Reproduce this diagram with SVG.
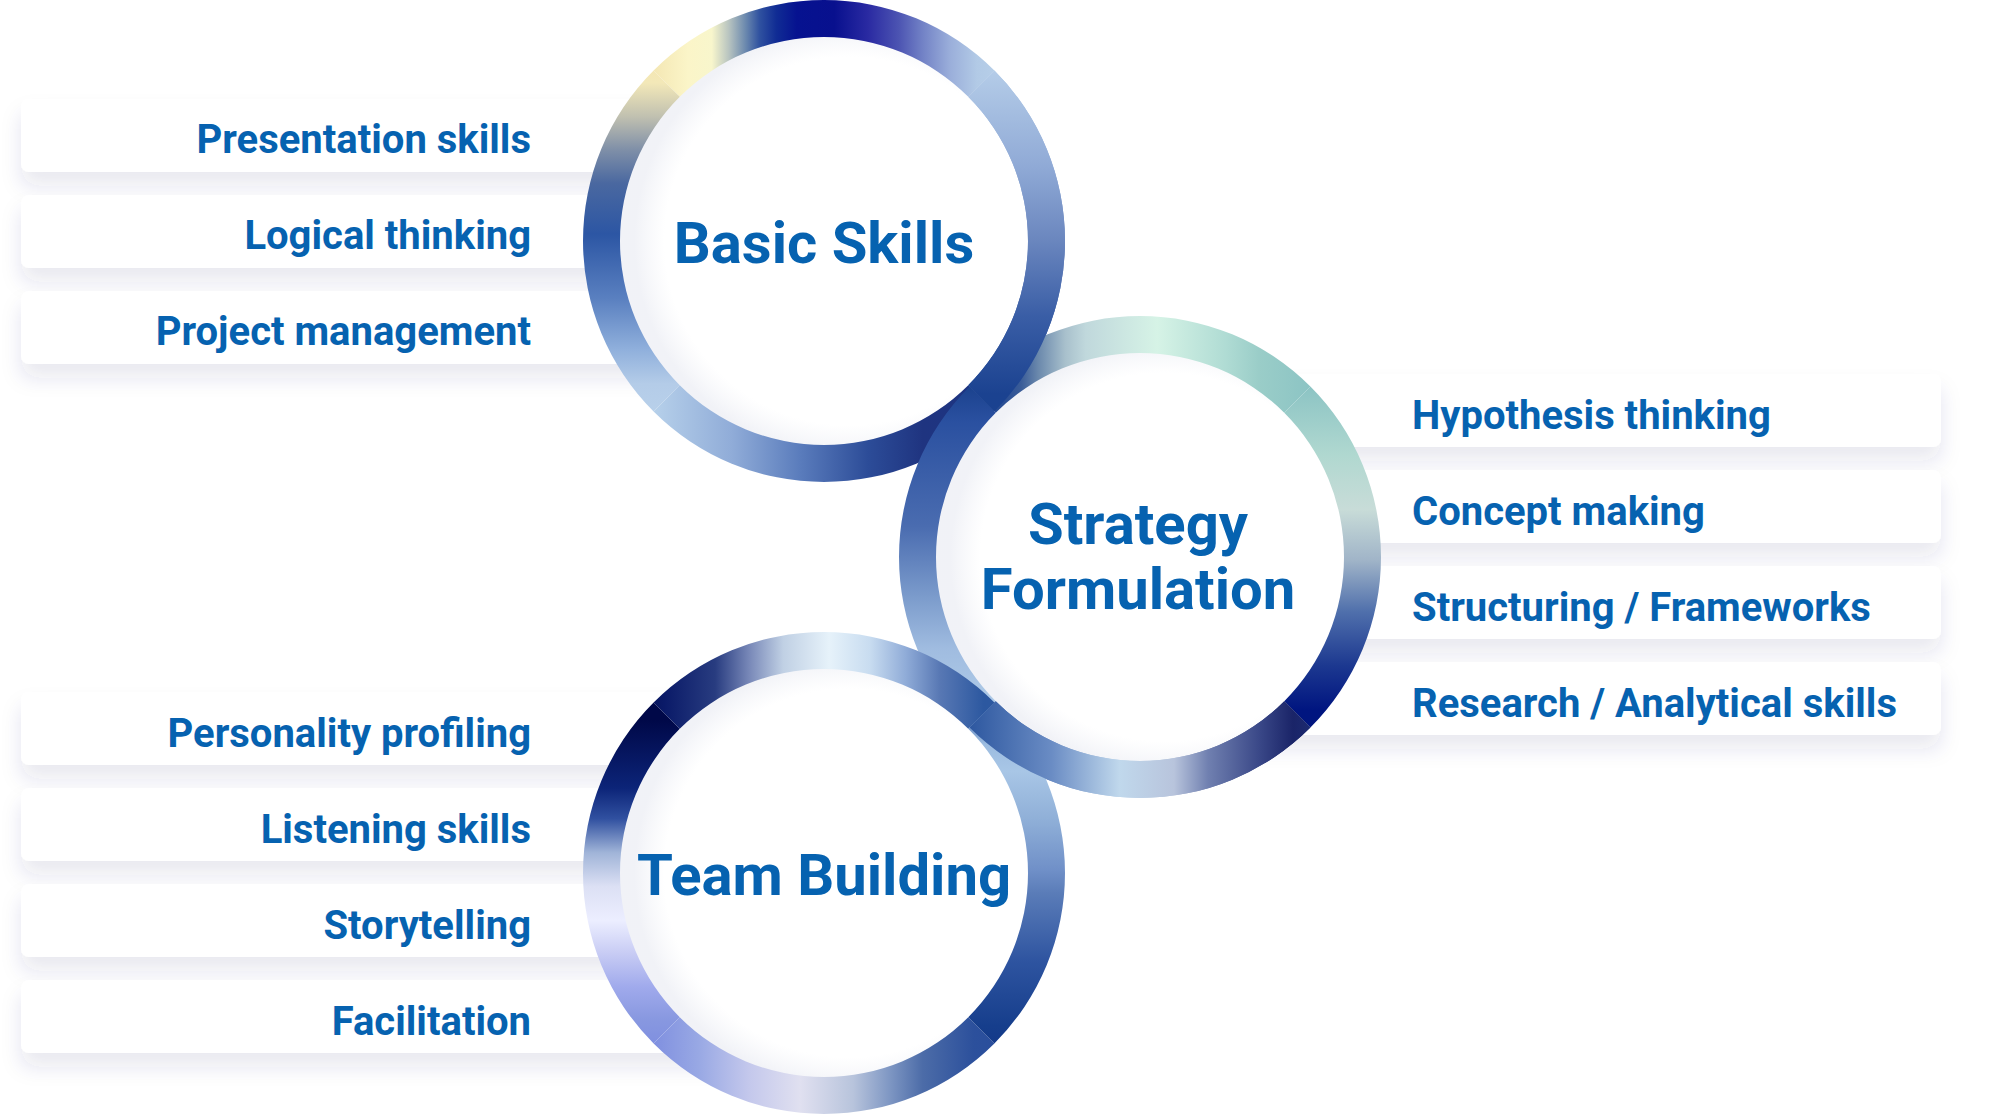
<svg xmlns="http://www.w3.org/2000/svg" xmlns:xlink="http://www.w3.org/1999/xlink" width="1991" height="1114" viewBox="0 0 1991 1114">
<style>
.lbl{font-family:Roboto,"Liberation Sans",sans-serif;font-weight:700;font-size:40px;fill:#0662b0}
.ttl{font-family:Roboto,"Liberation Sans",sans-serif;font-weight:700;font-size:58px;fill:#0662b0;text-anchor:middle}
.box{fill:#ffffff;filter:url(#sh)}
.disc{fill:#ffffff}
.glow{fill:url(#glow)}
</style>
<defs>
<filter id="sh" x="-10%" y="-60%" width="120%" height="240%">
<feDropShadow dx="0" dy="14" stdDeviation="10" flood-color="#2a3a70" flood-opacity="0.11"/>
</filter>
<radialGradient id="glow" cx="0.56" cy="0.5" r="0.52">
<stop offset="0.86" stop-color="#e2e5ef" stop-opacity="0"/>
<stop offset="1" stop-color="#dcdfeb" stop-opacity="0.4"/>
</radialGradient>
<path id="sT" d="M-170.41,-170.41 A241,241 0 0 1 170.41,-170.41 L144.25,-144.25 A204,204 0 0 0 -144.25,-144.25 Z"/>
<path id="sR" d="M170.41,-170.41 A241,241 0 0 1 170.41,170.41 L144.25,144.25 A204,204 0 0 0 144.25,-144.25 Z"/>
<path id="sB" d="M170.41,170.41 A241,241 0 0 1 -170.41,170.41 L-144.25,144.25 A204,204 0 0 0 144.25,144.25 Z"/>
<path id="sL" d="M-170.41,170.41 A241,241 0 0 1 -170.41,-170.41 L-144.25,-144.25 A204,204 0 0 0 -144.25,144.25 Z"/>
<!-- Basic Skills -->
<linearGradient id="bT" gradientUnits="userSpaceOnUse" x1="-170" y1="0" x2="170" y2="0">
<stop offset="0" stop-color="#f4e7b4"/><stop offset="0.1" stop-color="#fbf5c8"/><stop offset="0.17" stop-color="#f8f6cc"/>
<stop offset="0.22" stop-color="#b8c4c0"/><stop offset="0.27" stop-color="#6a88ae"/><stop offset="0.31" stop-color="#3052a0"/>
<stop offset="0.36" stop-color="#102c94"/><stop offset="0.42" stop-color="#061290"/><stop offset="0.53" stop-color="#08108e"/>
<stop offset="0.63" stop-color="#2a2aa2"/><stop offset="0.72" stop-color="#4c54b2"/><stop offset="0.79" stop-color="#7282c6"/>
<stop offset="0.87" stop-color="#9aaeda"/><stop offset="0.95" stop-color="#b2cae6"/><stop offset="1" stop-color="#b6cee8"/>
</linearGradient>
<linearGradient id="bR" gradientUnits="userSpaceOnUse" x1="0" y1="-170" x2="0" y2="170">
<stop offset="0" stop-color="#b4cce8"/><stop offset="0.28" stop-color="#90aad6"/><stop offset="0.5" stop-color="#6a86be"/>
<stop offset="0.72" stop-color="#3a5ea6"/><stop offset="0.95" stop-color="#1b4290"/><stop offset="1" stop-color="#1a4290"/>
</linearGradient>
<linearGradient id="bB" gradientUnits="userSpaceOnUse" x1="-170" y1="0" x2="170" y2="0">
<stop offset="0" stop-color="#b6d0ea"/><stop offset="0.23" stop-color="#90acd8"/><stop offset="0.43" stop-color="#5a7cbc"/>
<stop offset="0.63" stop-color="#2c4c98"/><stop offset="0.79" stop-color="#1f3480"/><stop offset="1" stop-color="#1c3482"/>
</linearGradient>
<linearGradient id="bL" gradientUnits="userSpaceOnUse" x1="0" y1="-170" x2="0" y2="170">
<stop offset="0" stop-color="#f4e7b4"/><stop offset="0.035" stop-color="#f3e8b8"/><stop offset="0.135" stop-color="#c0c0b0"/>
<stop offset="0.23" stop-color="#8090a8"/><stop offset="0.33" stop-color="#4a68a0"/><stop offset="0.48" stop-color="#2c56a4"/>
<stop offset="0.67" stop-color="#5a80c0"/><stop offset="0.82" stop-color="#90b0dc"/><stop offset="0.92" stop-color="#b4cce8"/>
<stop offset="1" stop-color="#b8d0ea"/>
</linearGradient>
<!-- Strategy -->
<linearGradient id="sgT" gradientUnits="userSpaceOnUse" x1="-170" y1="0" x2="170" y2="0">
<stop offset="0" stop-color="#1e4490"/><stop offset="0.1" stop-color="#2a4e94"/><stop offset="0.15" stop-color="#3a5c98"/>
<stop offset="0.2" stop-color="#6a88ac"/><stop offset="0.28" stop-color="#a8c0cc"/><stop offset="0.34" stop-color="#c0d8dc"/>
<stop offset="0.55" stop-color="#d6f3e6"/><stop offset="0.75" stop-color="#b0dcd4"/><stop offset="0.85" stop-color="#9acdc8"/>
<stop offset="1" stop-color="#8cc4c4"/>
</linearGradient>
<linearGradient id="sgR" gradientUnits="userSpaceOnUse" x1="0" y1="-170" x2="0" y2="170">
<stop offset="0" stop-color="#8cc4c4"/><stop offset="0.2" stop-color="#b0d8d0"/><stop offset="0.36" stop-color="#c8dcd8"/>
<stop offset="0.51" stop-color="#a0b4c8"/><stop offset="0.66" stop-color="#5070ac"/><stop offset="0.82" stop-color="#1c3890"/>
<stop offset="0.95" stop-color="#001580"/><stop offset="1" stop-color="#00157e"/>
</linearGradient>
<linearGradient id="sgB" gradientUnits="userSpaceOnUse" x1="-170" y1="0" x2="170" y2="0">
<stop offset="0" stop-color="#2e58a0"/><stop offset="0.24" stop-color="#6a8cc4"/><stop offset="0.44" stop-color="#c0d8ec"/>
<stop offset="0.6" stop-color="#b8c4dc"/><stop offset="0.7" stop-color="#7080b0"/><stop offset="0.85" stop-color="#3a4888"/>
<stop offset="0.95" stop-color="#1a2468"/><stop offset="1" stop-color="#1c2a70"/>
</linearGradient>
<linearGradient id="sgL" gradientUnits="userSpaceOnUse" x1="0" y1="-170" x2="0" y2="170">
<stop offset="0" stop-color="#1b428e"/><stop offset="0.1" stop-color="#2a50a0"/><stop offset="0.41" stop-color="#4a6cb0"/>
<stop offset="0.62" stop-color="#7c9ccc"/><stop offset="0.77" stop-color="#a0bce0"/><stop offset="1" stop-color="#b4d0ea"/>
</linearGradient>
<!-- Team -->
<linearGradient id="tT" gradientUnits="userSpaceOnUse" x1="-170" y1="0" x2="170" y2="0">
<stop offset="0" stop-color="#081660"/><stop offset="0.03" stop-color="#0a1a68"/><stop offset="0.18" stop-color="#283c80"/>
<stop offset="0.28" stop-color="#7888b8"/><stop offset="0.38" stop-color="#c0d0e4"/><stop offset="0.515" stop-color="#e6f2fa"/>
<stop offset="0.635" stop-color="#c8dcf0"/><stop offset="0.74" stop-color="#90acd8"/><stop offset="0.84" stop-color="#5878b4"/>
<stop offset="0.97" stop-color="#2c58a0"/><stop offset="1" stop-color="#2c58a0"/>
</linearGradient>
<linearGradient id="tR" gradientUnits="userSpaceOnUse" x1="0" y1="-170" x2="0" y2="170">
<stop offset="0" stop-color="#3a62a8"/><stop offset="0.12" stop-color="#9cbce0"/><stop offset="0.2" stop-color="#a8c6e6"/>
<stop offset="0.34" stop-color="#90b0d8"/><stop offset="0.49" stop-color="#7090c8"/><stop offset="0.56" stop-color="#5a7cb8"/>
<stop offset="0.76" stop-color="#2e54a0"/><stop offset="0.95" stop-color="#163e8c"/><stop offset="1" stop-color="#143a8a"/>
</linearGradient>
<linearGradient id="tB" gradientUnits="userSpaceOnUse" x1="-170" y1="0" x2="170" y2="0">
<stop offset="0" stop-color="#8090e0"/><stop offset="0.13" stop-color="#98a8e4"/><stop offset="0.28" stop-color="#c4c8ec"/>
<stop offset="0.43" stop-color="#e0e0f0"/><stop offset="0.585" stop-color="#b8c4dc"/><stop offset="0.69" stop-color="#8098c4"/>
<stop offset="0.79" stop-color="#4c6ca8"/><stop offset="0.94" stop-color="#2c509c"/><stop offset="1" stop-color="#2a4e9c"/>
</linearGradient>
<linearGradient id="tL" gradientUnits="userSpaceOnUse" x1="0" y1="-170" x2="0" y2="170">
<stop offset="0" stop-color="#000848"/><stop offset="0.05" stop-color="#000848"/><stop offset="0.25" stop-color="#0c2478"/>
<stop offset="0.34" stop-color="#3050a0"/><stop offset="0.44" stop-color="#a0b4d8"/><stop offset="0.54" stop-color="#dce0f4"/>
<stop offset="0.64" stop-color="#eceeff"/><stop offset="0.735" stop-color="#c8ccf4"/><stop offset="0.835" stop-color="#a0aaec"/>
<stop offset="0.93" stop-color="#8898e0"/><stop offset="1" stop-color="#8090e0"/>
</linearGradient>
</defs>

<rect width="1991" height="1114" fill="#ffffff"/>

<!-- label boxes -->
<g id="label-presentation"><rect class="box" x="21" y="99" width="740" height="73" rx="8"/><text class="lbl" x="531" y="153" text-anchor="end">Presentation skills</text></g>
<g id="label-logical"><rect class="box" x="21" y="195" width="740" height="73" rx="8"/><text class="lbl" x="531" y="249" text-anchor="end">Logical thinking</text></g>
<g id="label-project"><rect class="box" x="21" y="291" width="740" height="73" rx="8"/><text class="lbl" x="531" y="345" text-anchor="end">Project management</text></g>

<g id="label-hypothesis"><rect class="box" x="1220" y="374" width="721" height="73" rx="8"/><text class="lbl" x="1412" y="429">Hypothesis thinking</text></g>
<g id="label-concept"><rect class="box" x="1220" y="470" width="721" height="73" rx="8"/><text class="lbl" x="1412" y="525">Concept making</text></g>
<g id="label-structuring"><rect class="box" x="1220" y="566" width="721" height="73" rx="8"/><text class="lbl" x="1412" y="621">Structuring / Frameworks</text></g>
<g id="label-research"><rect class="box" x="1220" y="662" width="721" height="73" rx="8"/><text class="lbl" x="1412" y="717">Research / Analytical skills</text></g>

<g id="label-personality"><rect class="box" x="21" y="692" width="740" height="73" rx="8"/><text class="lbl" x="531" y="747" text-anchor="end">Personality profiling</text></g>
<g id="label-listening"><rect class="box" x="21" y="788" width="740" height="73" rx="8"/><text class="lbl" x="531" y="843" text-anchor="end">Listening skills</text></g>
<g id="label-storytelling"><rect class="box" x="21" y="884" width="740" height="73" rx="8"/><text class="lbl" x="531" y="939" text-anchor="end">Storytelling</text></g>
<g id="label-facilitation"><rect class="box" x="21" y="980" width="740" height="73" rx="8"/><text class="lbl" x="531" y="1035" text-anchor="end">Facilitation</text></g>

<!-- circles -->
<g id="node-basic-skills">
<circle class="disc" cx="824" cy="241" r="206"/>
<circle class="glow" cx="824" cy="241" r="206"/>
<g transform="translate(824,241)">
<use xlink:href="#sT" href="#sT" fill="url(#bT)"/>
<use xlink:href="#sL" href="#sL" fill="url(#bL)"/>
<use xlink:href="#sB" href="#sB" fill="url(#bB)"/>
<use xlink:href="#sR" href="#sR" fill="url(#bR)"/>
</g>
<text class="ttl" x="824" y="263">Basic Skills</text>
</g>

<g id="node-strategy-formulation">
<circle class="disc" cx="1140" cy="557" r="206"/>
<circle class="glow" cx="1140" cy="557" r="206"/>
<g transform="translate(1140,557)">
<use xlink:href="#sT" href="#sT" fill="url(#sgT)"/>
<use xlink:href="#sR" href="#sR" fill="url(#sgR)"/>
<use xlink:href="#sL" href="#sL" fill="url(#sgL)"/>
<use xlink:href="#sB" href="#sB" fill="url(#sgB)"/>
</g>
<text class="ttl" x="1138" y="544">Strategy</text>
<text class="ttl" x="1138" y="609">Formulation</text>
</g>

<g id="node-team-building">
<circle class="disc" cx="824" cy="873" r="206"/>
<circle class="glow" cx="824" cy="873" r="206"/>
<g transform="translate(824,873)">
<use xlink:href="#sL" href="#sL" fill="url(#tL)"/>
<use xlink:href="#sB" href="#sB" fill="url(#tB)"/>
<use xlink:href="#sR" href="#sR" fill="url(#tR)"/>
<use xlink:href="#sT" href="#sT" fill="url(#tT)"/>
</g>
<text class="ttl" x="824" y="895">Team Building</text>
</g>

<!-- interlocking overlaps: segments that pass over the neighbouring ring -->
<g id="ring-overlaps">
<use xlink:href="#sR" href="#sR" fill="url(#bR)" transform="translate(824,241)"/>
<use xlink:href="#sB" href="#sB" fill="url(#sgB)" transform="translate(1140,557)"/>
</g>

<g id="connectors"/>
</svg>
